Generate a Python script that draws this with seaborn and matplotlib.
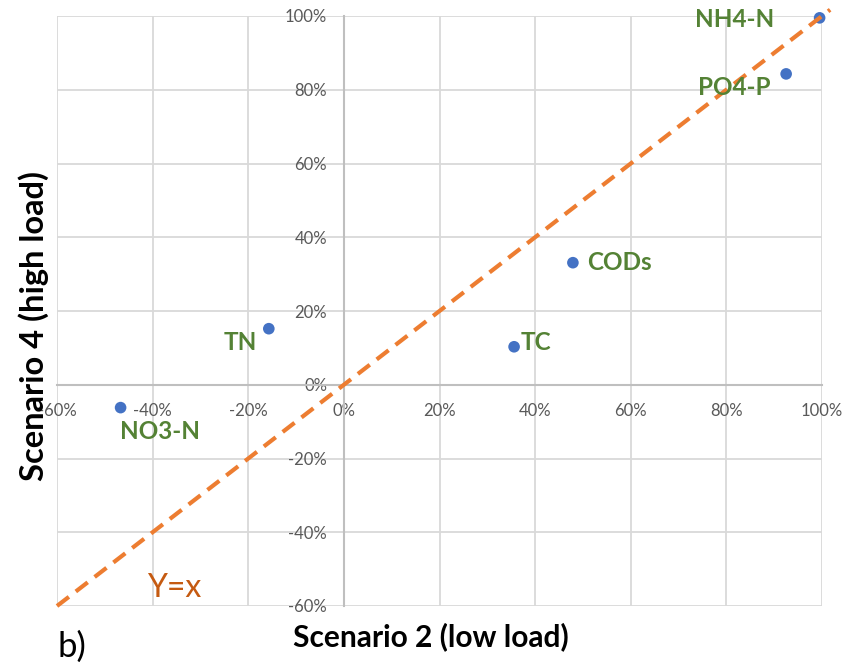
import matplotlib
matplotlib.use("Agg")
import matplotlib.pyplot as plt
import seaborn as sns
import pandas as pd
import numpy as np
from matplotlib.ticker import FuncFormatter, MultipleLocator

# ---- data ----
parameters = ["NH4-N", "PO4-P", "CODs", "TC", "TN", "NO3-N"]
scenario2_low = [99.5, 92.5, 47.9, 35.6, -15.7, -46.7]
scenario4_high = [99.5, 84.3, 33.1, 10.3, 15.2, -6.2]
identity_x = [-60, 101.7]
identity_y = [-60, 101.7]
tick_values = [-60, -40, -20, 0, 20, 40, 60, 80, 100]

df = pd.DataFrame({"param": parameters, "x": scenario2_low, "y": scenario4_high})
line_df = pd.DataFrame({"x": identity_x, "y": identity_y})

sns.set_theme(style="white")
plt.rcParams["font.family"] = ["Lato", "DejaVu Sans"]

fig = plt.figure(figsize=(8.63, 6.70), dpi=100)
ax = fig.add_axes([57 / 863, 64 / 670, 765 / 863, 590 / 670])

ax.set_xlim(-60, 100)
ax.set_ylim(-60, 100)
ax.xaxis.set_major_locator(MultipleLocator(20))
ax.yaxis.set_major_locator(MultipleLocator(20))
ax.grid(True, color="#d9d9d9", linewidth=1.3)
ax.set_axisbelow(True)

sns.scatterplot(data=df, x="x", y="y", ax=ax, color="#4472C4", s=70,
                edgecolor="none", zorder=3, clip_on=False)
sns.lineplot(data=line_df, x="x", y="y", ax=ax, color="#ED7D31", linewidth=3,
             zorder=4, clip_on=False)
ax.lines[-1].set_dashes((3.6, 2.1))

offsets = {
    "NH4-N": (-45, -2, "right"),
    "PO4-P": (-16, -14, "right"),
    "CODs": (14, 0, "left"),
    "TC": (7, 4, "left"),
    "TN": (-12, -14, "right"),
    "NO3-N": (-1, -24, "left"),
}
for p, xv, yv in zip(parameters, scenario2_low, scenario4_high):
    dx, dy, ha = offsets[p]
    ax.annotate(p, (xv, yv), xytext=(dx * 0.72, dy * 0.72), textcoords="offset points",
                ha=ha, va="center", fontsize=17.5, fontweight="bold", color="#548235",
                zorder=5)

# axes crossing at zero
for s in ["top", "right"]:
    ax.spines[s].set_visible(False)
ax.spines["left"].set_position("zero")
ax.spines["bottom"].set_position("zero")
for s in ["left", "bottom"]:
    ax.spines[s].set_color("#bfbfbf")
    ax.spines[s].set_linewidth(1.5)
    ax.spines[s].set_zorder(2)

fmt = FuncFormatter(lambda v, pos: f"{v:.0f}%")
ax.xaxis.set_major_formatter(fmt)
ax.yaxis.set_major_formatter(fmt)
ax.set_xticks(tick_values)
ax.set_yticks(tick_values)
ax.tick_params(axis="both", length=0, labelsize=12, labelcolor="#595959")
ax.tick_params(axis="x", pad=13)
ax.tick_params(axis="y", pad=12)
ax.set_xlabel("")
ax.set_ylabel("")

fig.text(431 / 863, 1 - 637 / 670, "Scenario 2 (low load)", ha="center", va="center",
         fontsize=21.5, fontweight="bold", color="black")
fig.text(34 / 863, 1 - 326 / 670, "Scenario 4 (high load)", ha="center", va="center",
         rotation=90, fontsize=23.5, fontweight="bold", color="black")
fig.text(72 / 863, 1 - 647 / 670, "b)", ha="center", va="center", fontsize=25,
         color="black")
ax.annotate("Y=x", (-60, -60), xytext=(174 * 0.72 - 57 * 0.72, (606 - 588) * 0.72),
            textcoords="offset points", ha="center", va="center", fontsize=23,
            color="#C55A11")

fig.savefig("out.png", dpi=100)
